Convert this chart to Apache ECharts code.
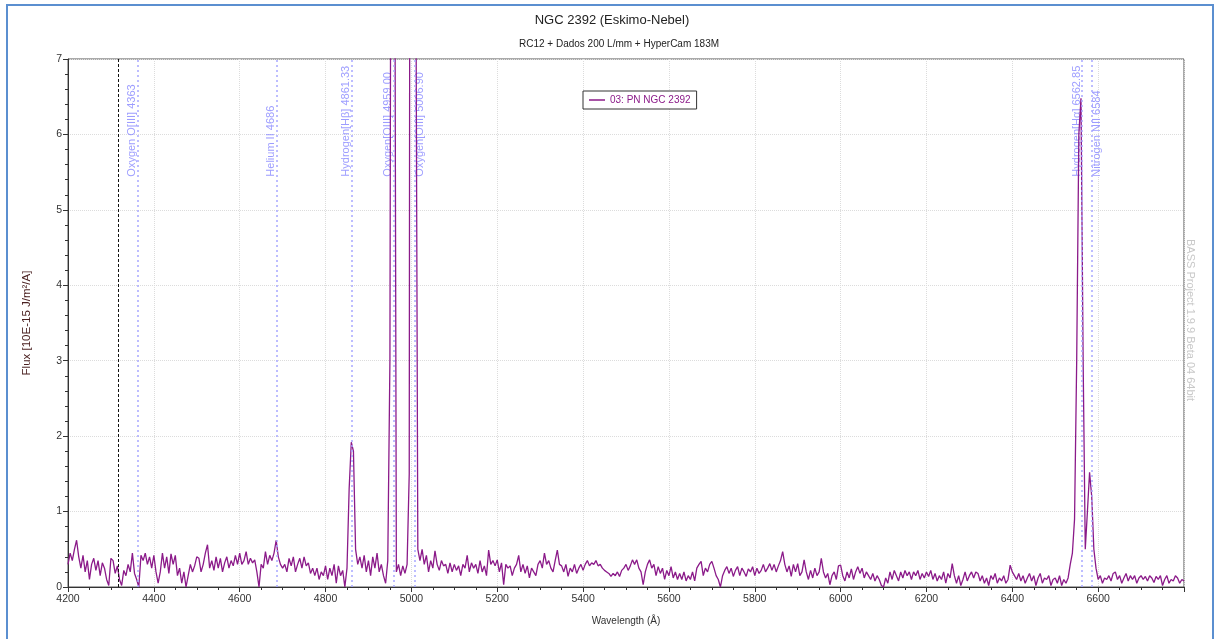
<!DOCTYPE html>
<html><head><meta charset="utf-8">
<script src="https://cdn.jsdelivr.net/npm/echarts@6/dist/echarts.min.js"></script>
<style>html,body{margin:0;padding:0;background:#fff}#chart{width:1215px;height:639px}</style>
</head><body><div id="chart"></div>
<script>
const titleText = 'NGC 2392 (Eskimo-Nebel)';
const subtitleText = 'RC12 + Dados 200 L/mm + HyperCam 183M';
const seriesName = '03: PN NGC 2392';
const xAxisName = 'Wavelength (Å)';
const yAxisName = 'Flux [10E-15 J/m²/A]';
const watermarkText = 'BASS Project 1.9.9 Beta 04 64bit';
const startWavelength = 4200;
const stepWavelength = 5;
// flux samples every 5 Å from 4200 Å to 6800 Å (one row per 100 Å)
const flux = [
  0.30,0.45,0.35,0.50,0.62,0.40,0.25,0.42,0.20,0.35,0.10,0.30,0.38,0.22,0.35,0.15,0.32,0.25,0.10,0.02,
  0.38,0.35,0.18,0.28,0.10,0.02,0.22,0.15,0.30,0.20,0.45,0.18,0.10,0.00,0.42,0.35,0.45,0.30,0.40,0.25,
  0.42,0.20,0.05,0.20,0.45,0.25,0.40,0.18,0.44,0.30,0.42,0.15,0.25,0.05,0.20,0.00,0.15,0.30,0.20,0.28,
  0.40,0.38,0.20,0.30,0.45,0.56,0.25,0.35,0.22,0.40,0.25,0.38,0.20,0.32,0.40,0.25,0.35,0.28,0.42,0.30,
  0.45,0.30,0.35,0.47,0.30,0.38,0.32,0.36,0.20,0.00,0.30,0.25,0.47,0.30,0.42,0.35,0.45,0.62,0.40,0.30,
  0.25,0.30,0.20,0.38,0.28,0.40,0.20,0.30,0.38,0.25,0.40,0.28,0.32,0.18,0.25,0.15,0.25,0.10,0.20,0.15,
  0.28,0.10,0.25,0.15,0.30,0.05,0.28,0.15,0.22,0.00,0.25,1.30,1.92,1.80,0.50,0.30,0.40,0.25,0.42,0.20,
  0.35,0.15,0.40,0.25,0.45,0.20,0.30,0.15,0.05,0.35,3.00,18.0,12.0,0.20,0.30,0.15,0.28,0.18,0.30,1.50,
  30.0,35.0,9.00,0.50,0.35,0.50,0.30,0.42,0.20,0.35,0.25,0.48,0.30,0.22,0.35,0.28,0.30,0.18,0.32,0.20,
  0.30,0.22,0.28,0.15,0.30,0.25,0.42,0.20,0.32,0.25,0.30,0.18,0.35,0.20,0.28,0.15,0.49,0.30,0.35,0.28,
  0.36,0.20,0.32,0.03,0.30,0.25,0.28,0.15,0.25,0.30,0.42,0.20,0.30,0.18,0.28,0.12,0.25,0.20,0.15,0.30,
  0.35,0.25,0.45,0.30,0.35,0.25,0.20,0.35,0.49,0.30,0.28,0.20,0.30,0.14,0.25,0.20,0.30,0.18,0.25,0.30,
  0.22,0.30,0.35,0.28,0.32,0.30,0.35,0.28,0.30,0.25,0.22,0.20,0.18,0.14,0.18,0.15,0.20,0.14,0.22,0.25,
  0.30,0.22,0.28,0.36,0.30,0.36,0.25,0.20,0.03,0.20,0.30,0.36,0.25,0.30,0.15,0.27,0.18,0.25,0.10,0.22,
  0.15,0.27,0.12,0.20,0.10,0.18,0.10,0.20,0.08,0.15,0.10,0.20,0.08,0.25,0.30,0.34,0.15,0.25,0.20,0.30,
  0.34,0.25,0.15,0.10,0.00,0.15,0.22,0.27,0.18,0.25,0.14,0.22,0.27,0.15,0.25,0.20,0.14,0.24,0.20,0.27,
  0.15,0.25,0.18,0.22,0.30,0.20,0.25,0.31,0.22,0.30,0.20,0.28,0.35,0.47,0.30,0.20,0.28,0.14,0.30,0.20,
  0.31,0.15,0.20,0.36,0.20,0.10,0.22,0.12,0.25,0.15,0.20,0.38,0.20,0.12,0.18,0.03,0.15,0.20,0.10,0.28,
  0.29,0.15,0.08,0.20,0.12,0.24,0.10,0.20,0.27,0.18,0.25,0.12,0.20,0.15,0.10,0.18,0.08,0.15,0.10,0.02,
  0.00,0.12,0.05,0.20,0.10,0.22,0.15,0.08,0.20,0.12,0.22,0.15,0.20,0.10,0.20,0.15,0.22,0.10,0.18,0.12,
  0.20,0.14,0.22,0.10,0.18,0.08,0.15,0.10,0.20,0.05,0.18,0.12,0.31,0.15,0.05,0.15,0.02,0.10,0.20,0.08,
  0.15,0.20,0.12,0.20,0.18,0.08,0.15,0.05,0.12,0.02,0.15,0.10,0.18,0.05,0.12,0.08,0.15,0.05,0.10,0.29,
  0.20,0.15,0.10,0.18,0.08,0.15,0.05,0.12,0.18,0.08,0.15,0.02,0.12,0.18,0.05,0.12,0.10,0.15,0.02,0.10,
  0.12,0.05,0.15,0.02,0.10,0.05,0.12,0.30,0.45,0.90,3.00,6.00,6.48,3.00,0.50,1.00,1.52,1.20,0.50,0.25,
  0.10,0.15,0.05,0.12,0.10,0.15,0.08,0.18,0.20,0.10,0.15,0.05,0.12,0.18,0.08,0.15,0.10,0.15,0.05,0.12,
  0.15,0.10,0.14,0.08,0.15,0.12,0.06,0.14,0.10,0.15,0.02,0.10,0.15,0.05,0.10,0.08,0.15,0.12,0.05,0.10,0.08
];
const lineWavelengths = [4363, 4686, 4861.33, 4959.00, 5006.90, 6562.85, 6584];
const lineLabels = ['Oxygen O[III] 4363', 'Helium II 4686', 'Hydrogen[Hβ] 4861.33', 'Oxygen[OIII] 4959.00', 'Oxygen[OIII] 5006.90', 'Hydrogen[Hα] 6562.85', 'Nitrogen NII 6584'];
const lineLabelSide = ['left', 'left', 'left', 'left', 'right', 'left', 'right'];
const labelAnchorFlux = 5.44;
const cursorWavelength = 4317;
const xMin = 4200, xMax = 6800, xInterval = 200;
const yMin = 0, yMax = 7, yInterval = 1;

const FONT = 'Liberation Sans';
const PURPLE = '#8b1a89';
const spectrum = flux.map((v, i) => [startWavelength + i * stepWavelength, v]);

const chart = echarts.init(document.getElementById('chart'), null, {renderer: 'canvas'});
chart.setOption({
  animation: false,
  backgroundColor: '#fff',
  textStyle: {fontFamily: FONT},
  title: [
    {text: titleText, left: 612, top: 14, textAlign: 'center', padding: 0,
     textStyle: {fontSize: 13, fontWeight: 'normal', color: '#222', fontFamily: FONT}},
    {text: subtitleText, left: 619, top: 39, textAlign: 'center', padding: 0,
     textStyle: {fontSize: 10, fontWeight: 'normal', color: '#222', fontFamily: FONT}}
  ],
  legend: {
    data: [seriesName], left: 583, top: 91, padding: [4, 6, 4, 6],
    backgroundColor: '#fff', borderColor: '#333', borderWidth: 1, borderRadius: 0,
    icon: 'rect', itemWidth: 16, itemHeight: 1.5, itemGap: 4,
    textStyle: {color: PURPLE, fontSize: 10, fontFamily: FONT}
  },
  grid: {left: 68, right: 31, top: 59, bottom: 52, show: true, borderColor: '#555', borderWidth: 1, backgroundColor: 'transparent'},
  xAxis: {
    type: 'value', min: xMin, max: xMax, interval: xInterval,
    name: xAxisName, nameLocation: 'middle', nameGap: 29,
    nameTextStyle: {fontSize: 10, color: '#333', fontFamily: FONT},
    axisLine: {show: true, onZero: false, lineStyle: {color: '#333', width: 1}},
    axisTick: {show: true, inside: false, length: 5, lineStyle: {color: '#333'}},
    minorTick: {show: true, splitNumber: 4, length: 3, lineStyle: {color: '#333'}},
    axisLabel: {fontSize: 10.5, color: '#333', margin: 7, showMaxLabel: false, fontFamily: FONT,
                formatter: v => String(v)},
    splitLine: {show: true, lineStyle: {color: '#dcdcdc', type: 'dotted', width: 1}}
  },
  yAxis: {
    type: 'value', min: yMin, max: yMax, interval: yInterval,
    name: yAxisName, nameLocation: 'middle', nameGap: 35, nameRotate: 90,
    nameTextStyle: {fontSize: 11.5, color: '#4a2020', fontFamily: FONT},
    axisLine: {show: true, lineStyle: {color: '#333', width: 1}},
    axisTick: {show: true, inside: false, length: 5, lineStyle: {color: '#333'}},
    minorTick: {show: true, splitNumber: 5, length: 3, lineStyle: {color: '#333'}},
    axisLabel: {fontSize: 10.5, color: '#333', margin: 6, fontFamily: FONT, formatter: v => String(v)},
    splitLine: {show: true, lineStyle: {color: '#dcdcdc', type: 'dotted', width: 1}}
  },
  graphic: [
    {type: 'rect', shape: {x: 7, y: 5, width: 1206, height: 700}, style: {fill: 'none', stroke: '#5b8fd0', lineWidth: 2}, silent: true},
    {type: 'text', x: 1190, y: 320, rotation: -Math.PI / 2, silent: true,
     style: {text: watermarkText, fill: '#c8c8c8', font: '11px ' + FONT, textAlign: 'center', textVerticalAlign: 'middle'}}
  ],
  series: [
    {
      name: 'lines', type: 'scatter', symbolSize: 0, silent: true, z: 3,
      data: lineWavelengths.map((w, i) => ({
        value: [w, labelAnchorFlux],
        label: {verticalAlign: lineLabelSide[i] === 'left' ? 'bottom' : 'top'}
      })),
      label: {
        show: true, position: [0, 0], rotate: 90, align: 'left',
        formatter: p => lineLabels[p.dataIndex],
        color: '#8585ff', fontSize: 11, fontFamily: FONT
      },
      markLine: {
        silent: true, symbol: 'none', label: {show: false},
        lineStyle: {color: '#a8a8ff', type: [2, 3], width: 1.5},
        data: lineWavelengths.map(w => ({xAxis: w})).concat([
          {xAxis: cursorWavelength, lineStyle: {color: '#111', type: [3, 2], width: 1}}
        ])
      }
    },
    {
      name: seriesName, type: 'line', data: spectrum, showSymbol: false, symbol: 'none',
      clip: true, z: 4,
      lineStyle: {color: PURPLE, width: 1.3},
      itemStyle: {color: PURPLE}
    }
  ]
});
</script></body></html>
